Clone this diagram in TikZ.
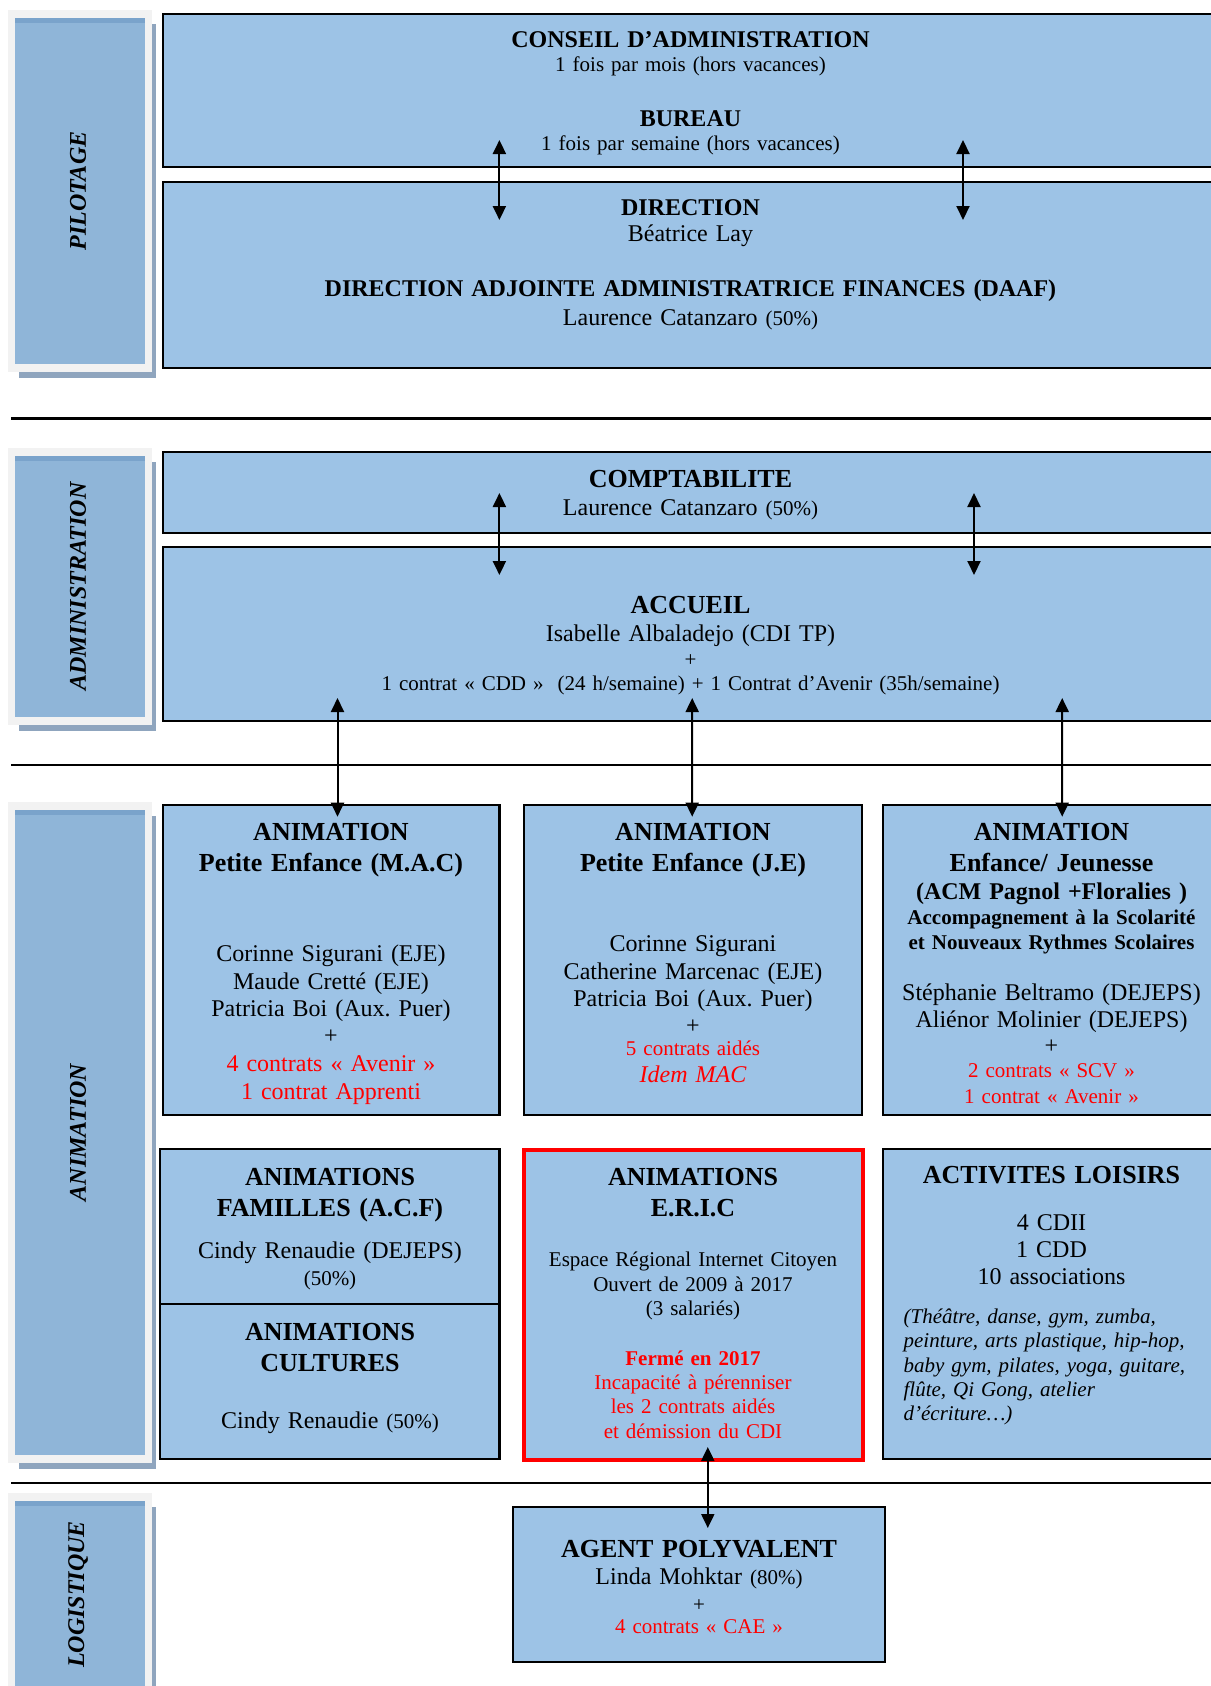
\documentclass[tikz,border=0pt]{standalone}
\usepackage{fontspec}
\setmainfont{Liberation Serif}
\usepackage{xcolor}
\usepackage{tikz}
\usetikzlibrary{arrows.meta,positioning,calc,shadows}

\definecolor{boxblue}{HTML}{9DC3E6}
\definecolor{panelblue}{HTML}{8FB5D8}
\definecolor{paneltop}{HTML}{7AA3CB}
\definecolor{panelframe}{HTML}{F2F2F2}
\definecolor{panelshadow}{HTML}{8FA5BE}
\frenchspacing

\begin{document}
\begin{tikzpicture}[
    x=1pt, y=-1pt,
    box/.style={rectangle, draw, line width=2.2pt, fill=boxblue, inner sep=0pt, outer sep=0pt, anchor=north west},
    closedbox/.style={box, draw=red, line width=4pt},
    panel/.style={rectangle, draw=panelframe, line width=7.6pt, fill=panelblue, minimum width=137pt, inner sep=0pt,
        drop shadow={shadow xshift=7.5pt, shadow yshift=-9.8pt, fill=panelshadow, opacity=1},
        path picture={\fill[paneltop] (path picture bounding box.north west) rectangle ([yshift=-9.5pt]path picture bounding box.north east);}},
    side/.style={font=\bfseries\itshape\fontsize{24}{28}\selectfont, rotate=90, inner sep=0pt},
    txt/.style={anchor=base, inner sep=0pt, align=center, text width=340pt},
    wide/.style={text width=1000pt},
    hd/.style={txt, font=\bfseries\fontsize{24}{28}\selectfont},
    head/.style={txt, font=\bfseries\fontsize{26}{31}\selectfont},
    body/.style={txt, font=\fontsize{24}{27.3}\selectfont},
    bodyit/.style={txt, font=\itshape\fontsize{24}{27.3}\selectfont},
    note/.style={txt, font=\fontsize{21}{24.5}\selectfont},
    noteb/.style={txt, font=\bfseries\fontsize{21}{25.3}\selectfont},
    list/.style={txt, anchor=base west, align=left, font=\itshape\fontsize{21}{24.35}\selectfont},
    twoway/.style={{Triangle[width=13pt,length=14pt]}-{Triangle[width=13pt,length=14pt]}, line width=2pt},
    sepline/.style={line width=2.6pt}
]
\useasboundingbox (0,0) rectangle (1210,1686);

% Side panels
\node[panel, minimum height=354.4pt] (pilot) at (80,191) {};
\node[panel, minimum height=269.4pt] (admin) at (80,586.5) {};
\node[panel, minimum height=653.4pt] (anim) at (80,1132.5) {};
\node[panel, minimum height=195.2pt] (logi) at (80,1594.4) {};
\node[side] (pilotL) at ([xshift=-2pt]pilot.center) {PILOTAGE};
\node[side] (adminL) at ([xshift=-2pt]admin.center) {ADMINISTRATION};
\node[side] (animL) at ([xshift=-2pt]anim.center) {ANIMATION};
\node[side] (logiL) at ([xshift=-2pt]logi.center) {LOGISTIQUE};

% Separators
\draw[sepline] (11,418.3) -- (1215,418.3);
\draw[sepline] (11,765) -- (1215,765);
\draw[sepline] (11,1483) -- (1215,1483);

% Pilotage
\node[box, minimum width=1056.4pt, minimum height=153pt] (cons) at (162.6,14) {};
\node[box, minimum width=1056.4pt, minimum height=186pt] (dir) at (162.6,182) {};
\node[hd, wide] (consT) at (690.5,47.3) {CONSEIL D’ADMINISTRATION};
\node[note, wide] (consF) at (690.5,71) {1 fois par mois (hors vacances)};
\node[hd, wide] (burT) at (690.5,126.7) {BUREAU};
\node[note, wide] (burF) at (690.5,150.7) {1 fois par semaine (hors vacances)};
\node[hd, wide] (dirT) at (690.5,215) {DIRECTION};
\node[body, wide] (dirN) at (690.5,241.7) {Béatrice Lay};
\node[hd, wide] (daafT) at (690.5,296.7) {DIRECTION ADJOINTE ADMINISTRATRICE FINANCES (DAAF)};
\node[body, wide] (daafN) at (690.5,325) {Laurence Catanzaro {\fontsize{21}{24}\selectfont(50\%)}};

% Administration
\node[box, minimum width=1056.4pt, minimum height=80.4pt] (compta) at (162.6,452.3) {};
\node[box, minimum width=1056.4pt, minimum height=174pt] (accueil) at (162.6,547) {};
\node[head, wide] (compT) at (690.5,487.7) {COMPTABILITE};
\node[body, wide] (compN) at (690.5,515) {Laurence Catanzaro {\fontsize{21}{24}\selectfont(50\%)}};
\node[head, wide] (accT) at (690.5,613.3) {ACCUEIL};
\node[body, wide] (accN) at (690.5,641.7) {Isabelle Albaladejo (CDI TP)};
\node[note, wide] (accC) at (690.5,666) {+\\1 contrat «~CDD~»\ \ (24~h/semaine) + 1 Contrat d’Avenir (35h/semaine)};

% Animation, first row
\node[box, minimum width=336.8pt, minimum height=310pt] (mac) at (162.6,805) {};
\node[box, minimum width=337.6pt, minimum height=310pt] (je) at (524.2,805) {};
\node[box, minimum width=337pt, minimum height=310pt] (ej) at (883,805) {};
\node[head] (macT) at (331,840.7) {ANIMATION\\Petite Enfance (M.A.C)};
\node[body] (macN) at (331,961.7) {Corinne Sigurani (EJE)\\Maude Cretté (EJE)\\Patricia Boi (Aux. Puer)\\+};
\node[body, text=red] (macR) at (331,1071.7) {4 contrats «~Avenir~»\\1 contrat Apprenti};
\node[head] (jeT) at (693,840.7) {ANIMATION\\Petite Enfance (J.E)};
\node[body] (jeN) at (693,951.7) {Corinne Sigurani\\Catherine Marcenac (EJE)\\Patricia Boi (Aux. Puer)\\+};
\node[note, text=red] (jeR) at (693,1055) {5 contrats aidés};
\node[bodyit, text=red] (jeI) at (693,1082.7) {Idem MAC};
\node[head] (ejT) at (1051.5,840.7) {ANIMATION\\Enfance/ Jeunesse};
\node[hd] (ejA) at (1051.5,899.3) {(ACM Pagnol +Floralies )};
\node[noteb] (ejB) at (1051.5,924) {Accompagnement à la Scolarité\\et Nouveaux Rythmes Scolaires};
\node[body] (ejN) at (1051.5,1000.7) {Stéphanie Beltramo (DEJEPS)\\[-0.7pt]Aliénor Molinier (DEJEPS)\\[-0.7pt]+};
\node[note, text=red] (ejR) at (1051.5,1077.3) {2 contrats «~SCV~»\\[1.5pt]1 contrat «~Avenir~»};

% Animation, second row
\node[box, minimum width=339.4pt, minimum height=154.7pt] (acf) at (160,1149.3) {};
\node[box, minimum width=339.4pt, minimum height=155pt] (cult) at (160,1304) {};
\node[closedbox, minimum width=338.4pt, minimum height=310pt] (eric) at (524.2,1150) {};
\node[box, minimum width=337pt, minimum height=310pt] (act) at (883.2,1149) {};
\node[head] (acfT) at (330,1185) {ANIMATIONS\\FAMILLES (A.C.F)};
\node[body] (acfN) at (330,1258.3) {Cindy Renaudie (DEJEPS)};
\node[note] (acfP) at (330,1285) {(50\%)};
\node[head] (cultT) at (330,1340) {ANIMATIONS\\CULTURES};
\node[body] (cultN) at (330,1428.3) {Cindy Renaudie {\fontsize{21}{24}\selectfont(50\%)}};
\node[head] (ericT) at (693,1185) {ANIMATIONS\\E.R.I.C};
\node[note] (ericN) at (693,1266.7) {Espace Régional Internet Citoyen\\Ouvert de 2009 à 2017\\(3 salariés)};
\node[noteb, text=red] (ericF) at (693,1365) {Fermé en 2017};
\node[note, text=red] (ericR) at (693,1389.3) {Incapacité à pérenniser\\les 2 contrats aidés\\et démission du CDI};
\node[head] (actT) at (1051.5,1183.3) {ACTIVITES LOISIRS};
\node[body] (actN) at (1051.5,1230) {4 CDII\\1 CDD\\10 associations};
\node[list] (actL) at (903.4,1323.3) {(Théâtre, danse, gym, zumba,\\peinture, arts plastique, hip-hop,\\baby gym, pilates, yoga, guitare,\\flûte, Qi Gong, atelier\\d’écriture…)};

% Logistique
\node[box, minimum width=372pt, minimum height=155.6pt] (agent) at (513,1506.7) {};
\node[head] (agT) at (699,1557.7) {AGENT POLYVALENT};
\node[body] (agN) at (699,1584) {Linda Mohktar {\fontsize{21}{24}\selectfont(80\%)}};
\node[note] (agC) at (699,1611) {+\\[-2.2pt]{\color{red}4 contrats «~CAE~»}};

% Links
\draw[twoway] ($(cons.south west)+(336.8,-27)$) -- ($(dir.north west)+(336.8,38)$);
\draw[twoway] ($(cons.south west)+(800.4,-27)$) -- ($(dir.north west)+(800.4,38)$);
\draw[twoway] ($(compta.south west)+(336.8,-39.7)$) -- ($(accueil.north west)+(336.8,28)$);
\draw[twoway] ($(compta.south west)+(811.4,-39.7)$) -- ($(accueil.north west)+(811.4,28)$);
\draw[twoway] ($(accueil.south west)+(174.9,-23)$) -- ($(mac.north west)+(174.9,11.7)$);
\draw[twoway] ($(accueil.south west)+(529.6,-23)$) -- ($(je.north west)+(168,11.7)$);
\draw[twoway] ($(accueil.south west)+(899.6,-23)$) -- ($(ej.north west)+(179.2,11.7)$);
\draw[twoway] ($(eric.south west)+(183.6,-13)$) -- ($(agent.north west)+(194.8,21.3)$);
\end{tikzpicture}
\end{document}
